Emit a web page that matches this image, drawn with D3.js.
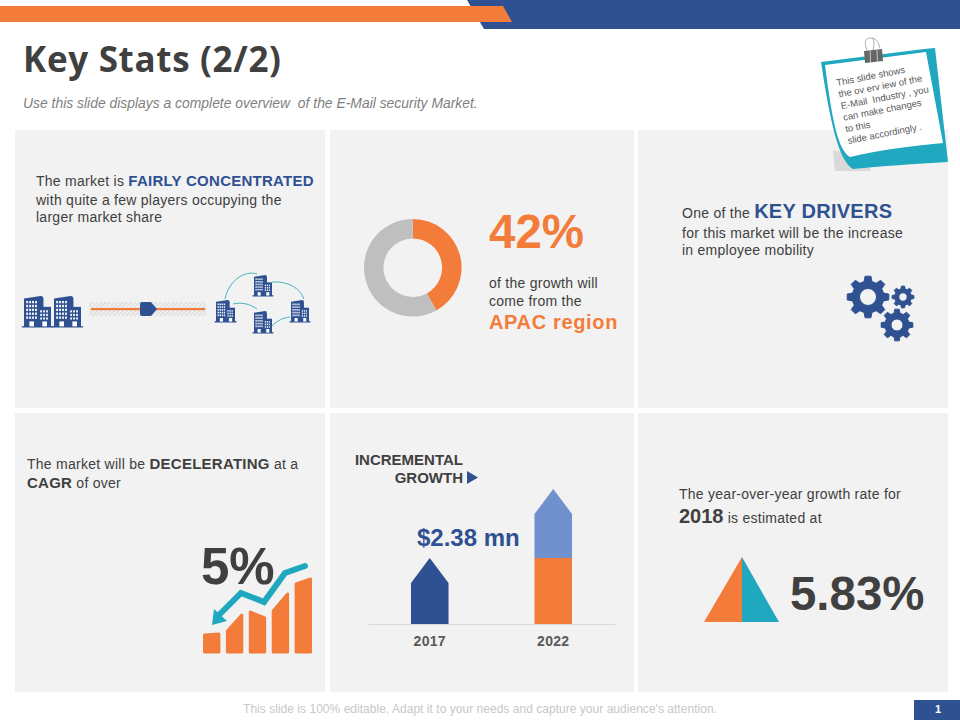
<!DOCTYPE html>
<html><head><meta charset="utf-8">
<script src="https://cdnjs.cloudflare.com/ajax/libs/d3/7.8.5/d3.min.js"></script>
<style>html,body{margin:0;padding:0;background:#fff}svg{display:block}text{font-family:"Liberation Sans",Arial,sans-serif}</style>
</head><body><svg id="c" width="960" height="720"></svg>
<script>
// ---- data ----
const shareLabels = ["APAC region", "Rest of market"];
const shareValues = [42, 58];
const growthYears = ["2017", "2022"];
const baseValues = [2.28, 2.28];
const incrementValues = [0, 2.38];
const trendBars = ["a", "b", "c", "d", "e"];
const trendLeft = [20, 24, 43, 44, 71];
const trendRight = [21, 40, 37, 61, 76];
const noteLines = ["This slide shows", "the ov erv iew of the", "E-Mail  Industry , you", "can make changes", "to this", "slide accordingly ."];

const BLUE="#2F5191", ORANGE="#F47C3A", LIGHT="#7090CE", TEAL="#1FA8BF", GREY="#BFBFBF", PANEL="#F2F2F2", INK="#404040";
const svg=d3.select("#c");

// header bands
svg.append("path").attr("d","M467,0L960,0L960,29L484,29Z").attr("fill",BLUE);
svg.append("path").attr("d","M0,6L503,6L512,22L0,22Z").attr("fill",ORANGE);

// panels
const panels=[[15,130,310,278],[330,130,304,278],[638,130,310,278],[15,413,310,279],[330,413,304,279],[638,413,310,279]];
svg.selectAll("rect.p").data(panels).join("rect").attr("class","p")
  .attr("x",d=>d[0]).attr("y",d=>d[1]).attr("width",d=>d[2]).attr("height",d=>d[3]).attr("fill",PANEL);

function txt(x,y,parts,anchor){
  const t=svg.append("text").attr("x",x).attr("y",y).attr("text-anchor",anchor||"start");
  (Array.isArray(parts)?parts:[parts]).forEach(p=>{
    if(typeof p==="string")p={t:p};
    t.append("tspan").text(p.t).attr("font-size",p.s||14).attr("font-weight",p.b?"700":"400")
     .attr("letter-spacing",p.ls!==undefined?p.ls:0.26)
     .attr("fill",p.c||INK).style("white-space","pre");
  });
  t.style("white-space","pre");
  return t;
}

// title
svg.append("text").attr("x",23).attr("y",72).text("Key Stats (2/2)")
  .attr("font-size",35).attr("letter-spacing",0.68).attr("font-weight",700).attr("fill",INK).style("font-family","'Open Sans'");
svg.append("text").attr("x",23).attr("y",108).text("Use this slide displays a complete overview  of the E-Mail security Market.")
  .attr("font-size",13.9).attr("font-style","italic").attr("fill","#7F7F7F").style("white-space","pre");

// panel 1
txt(36,186,["The market is ",{t:"FAIRLY CONCENTRATED",b:1,c:BLUE,s:15}]);
txt(36,205,"with quite a few players occupying the");
txt(36,222,"larger market share");

function building(x,y,w,h){
  const g=svg.append("g");
  g.append("path").attr("d",`M${x},${y+h}L${x},${y+h*0.08}L${x+w*0.62},${y}Q${x+w*0.72},${y} ${x+w*0.72},${y+h*0.1}L${x+w*0.72},${y+h}Z`).attr("fill",BLUE);
  g.append("rect").attr("x",x+w*0.55).attr("y",y+h*0.35).attr("width",w*0.45).attr("height",h*0.65).attr("fill",BLUE);
  g.append("rect").attr("x",x-w*0.08).attr("y",y+h-0.8).attr("width",w*1.16).attr("height",1.3).attr("fill",BLUE);
  const cw=w/11;
  for(let r=0;r<5;r++)for(let c=0;c<4;c++){
    g.append("rect").attr("x",x+w*0.08+c*cw*1.2).attr("y",y+h*0.16+r*h*0.125).attr("width",cw*0.8).attr("height",h*0.075).attr("fill","#fff").attr("opacity",.92);
  }
  for(let r=0;r<3;r++)for(let c=0;c<3;c++){
    g.append("rect").attr("x",x+w*0.6+c*cw*1.2).attr("y",y+h*0.46+r*h*0.115).attr("width",cw*0.75).attr("height",h*0.07).attr("fill","#fff").attr("opacity",.92);
  }
  g.append("rect").attr("x",x+w*0.2).attr("y",y+h*0.82).attr("width",w*0.17).attr("height",h*0.16).attr("fill","#fff");
  g.append("rect").attr("x",x+w*0.68).attr("y",y+h*0.82).attr("width",w*0.17).attr("height",h*0.16).attr("fill","#fff");
}
[[24,296,27,31],[54,296,27,31],[216,300,19,22],[254,275,18,21],[254,311,18,22],[291,300,18,22]].forEach(b=>building(...b));

const defs=svg.append("defs");
const pat=defs.append("pattern").attr("id","hatch").attr("width",3).attr("height",3).attr("patternUnits","userSpaceOnUse").attr("patternTransform","rotate(45)");
pat.append("rect").attr("width",1.2).attr("height",3).attr("fill","#D8D8D8");
svg.append("rect").attr("x",89).attr("y",302).attr("width",117).attr("height",14).attr("fill","url(#hatch)");
svg.append("rect").attr("x",91).attr("y",308).attr("width",114).attr("height",2.2).attr("fill",ORANGE);
svg.append("path").attr("d","M142,302L151,302L157,309L151,316L142,316Q140,316 140,314L140,304Q140,302 142,302Z").attr("fill",BLUE);
["M225,299C229,280 245,270 257,274","M272,282C288,281 300,288 304,299","M233,304C242,302 250,304 257,309","M272,326C278,320 283,318 290,317"].forEach(d=>
  svg.append("path").attr("d",d).attr("fill","none").attr("stroke","#45B5BE").attr("stroke-width",1));

// panel 2 - donut
const pie=d3.pie().sort(null)(shareValues);
const arc=d3.arc().innerRadius(29.3).outerRadius(48.8);
svg.append("g").attr("transform","translate(412.8,267.7)").selectAll("path").data(pie).join("path")
  .attr("d",arc).attr("fill",(d,i)=>i===0?ORANGE:GREY);
txt(489,248,[{t:"42%",s:47.5,b:1,c:ORANGE,ls:0}]);
txt(489,288,"of the growth will");
txt(489,306,"come from the");
txt(489,329,[{t:shareLabels[0],s:20,b:1,c:ORANGE,ls:0.65}]);

// panel 3
txt(682,218,["One of the ",{t:"KEY DRIVERS",s:20,b:1,c:BLUE}]);
txt(682,238,"for this market will be the increase");
txt(682,255,"in employee mobility");
function gear(cx,cy,R,teeth,hole){
  const r=R*0.76, pts=[], n=teeth, a=2*Math.PI/n;
  for(let i=0;i<n;i++){
    const t=i*a;
    [[-.30,r],[-.17,R],[.17,R],[.30,r]].forEach(p=>{
      const an=t+p[0]*a*1.05;
      pts.push([cx+p[1]*Math.cos(an),cy+p[1]*Math.sin(an)]);
    });
  }
  const d="M"+pts.map(p=>p.map(v=>v.toFixed(2)).join(",")).join("L")+"Z"+
    `M${cx+hole},${cy}A${hole},${hole} 0 1,0 ${cx-hole},${cy}A${hole},${hole} 0 1,0 ${cx+hole},${cy}Z`;
  svg.append("path").attr("d",d).attr("fill",BLUE).attr("fill-rule","evenodd").attr("stroke",BLUE).attr("stroke-width",1).attr("stroke-linejoin","round");
}
gear(868,297,21,8,8.5);
gear(903,297,11,8,4.2);
gear(897,325,16,8,6);

// panel 4
txt(27,469,["The market will be ",{t:"DECELERATING",b:1,s:15}," at a"]);
txt(27,488,[{t:"CAGR",b:1,s:15}," of over"]);
txt(201,584,[{t:"5%",s:51,b:1,ls:0}]);
const tx=d3.scaleBand().domain(trendBars).range([203,312]).paddingInner(0.24);
const ty=d3.scaleLinear().domain([0,76]).range([653.5,577.5]);
svg.append("g").selectAll("path").data(trendBars).join("path")
  .attr("d",(d,i)=>{
    const x0=tx(d)+1.5,x1=tx(d)+tx.bandwidth()-1.5;
    return `M${x0},${ty(0)-1.5}L${x0},${ty(trendLeft[i])+1.5}L${x1},${ty(trendRight[i])+1.5}L${x1},${ty(0)-1.5}Z`;
  }).attr("fill",ORANGE).attr("stroke",ORANGE).attr("stroke-width",3).attr("stroke-linejoin","round");
svg.append("path").attr("d","M305,566L285,573L264,602L241,593L219,615").attr("fill","none").attr("stroke",TEAL).attr("stroke-width",6).attr("stroke-linecap","round").attr("stroke-linejoin","miter");
svg.append("path").attr("d","M212,625L214,609L227,621Z").attr("fill",TEAL);

// panel 5 - bars
const bx=d3.scaleBand().domain(growthYears).range([368,615]).paddingInner(0.696).paddingOuter(0.348);
const by=d3.scaleLinear().domain([0,4.66]).range([624,489]);
const tip=25;
function arrow(xk,v0,v1){
  const x0=bx(xk),x1=x0+bx.bandwidth(),m=(x0+x1)/2;
  return `M${x0},${by(v0)}L${x0},${by(v1)+tip}L${m},${by(v1)}L${x1},${by(v1)+tip}L${x1},${by(v0)}Z`;
}
const rect2022=(xk,v0,v1)=>{const x0=bx(xk),x1=x0+bx.bandwidth();return `M${x0},${by(v0)}L${x0},${by(v1)}L${x1},${by(v1)}L${x1},${by(v0)}Z`;};
svg.append("g").selectAll("path").data(growthYears).join("path")
  .attr("d",(y,i)=>incrementValues[i]>0?rect2022(y,0,baseValues[i]):arrow(y,0,baseValues[i]))
  .attr("fill",(y,i)=>incrementValues[i]>0?ORANGE:BLUE);
svg.append("g").selectAll("path").data(growthYears.filter((y,i)=>incrementValues[i]>0)).join("path")
  .attr("d",y=>{const i=growthYears.indexOf(y);return arrow(y,baseValues[i],baseValues[i]+incrementValues[i]);})
  .attr("fill",LIGHT);
const ax=svg.append("g").attr("transform","translate(0,624)").call(d3.axisBottom(bx).tickSize(0).tickPadding(12));
ax.select(".domain").attr("stroke","#D9D9D9").attr("stroke-width",1);
ax.selectAll("text").attr("font-size",14).attr("letter-spacing",0.3).attr("font-weight",700).attr("fill","#595959").style("font-family","'Liberation Sans'");
txt(463,465,[{t:"INCREMENTAL",b:1,s:15,ls:0}],"end");
txt(463,483,[{t:"GROWTH",b:1,s:15,ls:0}],"end");
svg.append("path").attr("d","M467,471L478,477.5L467,484Z").attr("fill",BLUE);
txt(417,546,[{t:"$2.38 mn",s:24,b:1,c:BLUE,ls:0}]);

// panel 6
txt(679,499,"The year-over-year growth rate for");
txt(679,523,[{t:"2018",s:20,b:1,ls:0}," is estimated at"]);
svg.append("path").attr("d","M742,557L742,622L704,622Z").attr("fill",ORANGE);
svg.append("path").attr("d","M742,557L779,622L742,622Z").attr("fill",TEAL);
txt(790,610,[{t:"5.83%",s:47.4,b:1,ls:0}]);

// sticky note
svg.append("path").attr("d","M833,150L870,160L870,171L835,171Z").attr("fill","#D9D9D9");
svg.append("path").attr("d","M821,62L924,49L935,48L948,162C915,164 880,166 853,169C838,160 830,120 821,62Z").attr("fill",TEAL);
svg.append("path").attr("d","M825,65L926,52L943,143C910,146 880,150 850,157C838,150 832,120 825,65Z").attr("fill","#fff");
const note=svg.append("g").attr("transform","translate(837,86) rotate(-11)");
note.selectAll("text").data(noteLines).join("text").attr("x",0).attr("y",(d,i)=>i*11.8)
  .text(d=>d).attr("font-size",9.5).attr("fill","#595959").style("white-space","pre");
// clip
svg.append("path").attr("d","M867,50C864,42 865,38 870,38C874,38 875,42 873,50M880,48C878,42 877,39 872,38").attr("fill","none").attr("stroke","#9A9A9A").attr("stroke-width",.8);
svg.append("path").attr("d","M864,51L882,49L883,61L865,63Z").attr("fill","#666666");
[870,877].forEach(x=>svg.append("path").attr("d",`M${x},50L${x+.5},62`).attr("stroke","#C8C8C8").attr("stroke-width",1));

// footer
svg.append("text").attr("x",480).attr("y",713).attr("text-anchor","middle").text("This slide is 100% editable. Adapt it to your needs and capture your audience's attention.")
  .attr("font-size",12).attr("letter-spacing",0.03).attr("fill","#C8C8C8");
svg.append("rect").attr("x",914).attr("y",700).attr("width",46).attr("height",20).attr("fill",BLUE);
svg.append("text").attr("x",938).attr("y",713).attr("text-anchor","middle").text("1").attr("font-size",11).attr("font-weight",700).attr("fill","#fff");
</script></body></html>
